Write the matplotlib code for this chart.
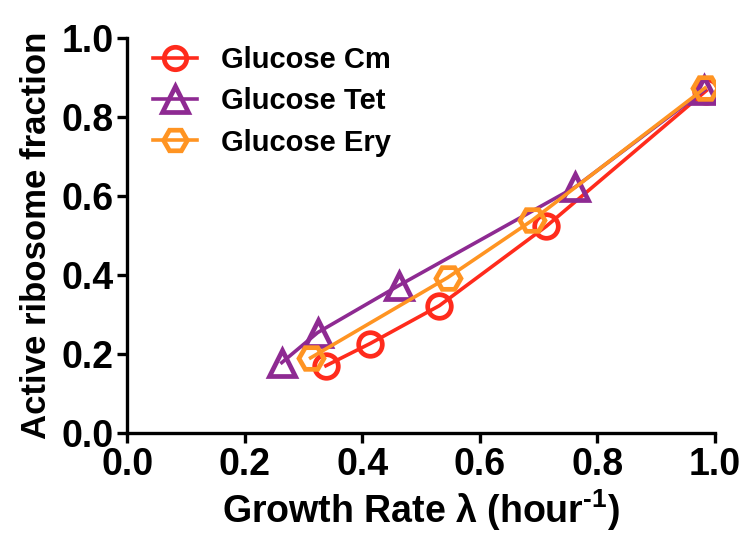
import matplotlib
matplotlib.use("Agg")
import matplotlib.pyplot as plt

plt.rcParams['font.family'] = ['Liberation Sans', 'DejaVu Sans']
plt.rcParams['font.weight'] = 'bold'
plt.rcParams['mathtext.fontset'] = 'custom'
plt.rcParams['mathtext.rm'] = 'Liberation Sans:bold'
plt.rcParams['mathtext.bf'] = 'Liberation Sans:bold'
plt.rcParams['mathtext.default'] = 'rm'

# Growth rate (1/h) and active ribosome fraction for each antibiotic series
cm_rate = [0.338, 0.413, 0.531, 0.713, 0.985]
cm_frac = [0.170, 0.226, 0.322, 0.523, 0.866]

tet_rate = [0.263, 0.324, 0.462, 0.762, 0.982]
tet_frac = [0.178, 0.254, 0.373, 0.622, 0.868]

ery_rate = [0.312, 0.545, 0.689, 0.983]
ery_frac = [0.190, 0.393, 0.538, 0.873]

labels = ["Glucose Cm", "Glucose Tet", "Glucose Ery"]
ticks = [0.0, 0.2, 0.4, 0.6, 0.8, 1.0]

fig = plt.figure(figsize=(7.44, 5.48), dpi=100)
ax = fig.add_axes([0.171, 0.210, 0.790, 0.721])

lw = 2.6
ms = 17
mew = 3.4
ax.plot(cm_rate, cm_frac, color='#FF2B1C', lw=lw, marker='o', ms=ms,
        mfc='none', mew=mew, label=labels[0], zorder=3)
ax.plot(tet_rate, tet_frac, color='#8E2A92', lw=lw, marker='^', ms=ms + 2,
        mfc='none', mew=mew, label=labels[1], zorder=3)
ax.plot(ery_rate, ery_frac, color='#FF9422', lw=lw, marker='H', ms=ms + 1,
        mfc='none', mew=mew, label=labels[2], zorder=4)

ax.set_xlim(0, 1.0)
ax.set_ylim(0, 1.0)
ax.set_xticks(ticks)
ax.set_yticks(ticks)
ax.set_xticklabels([f"{t:.1f}" for t in ticks])
ax.set_yticklabels([f"{t:.1f}" for t in ticks])

for side in ['top', 'right']:
    ax.spines[side].set_visible(False)
for side in ['left', 'bottom']:
    ax.spines[side].set_linewidth(2.4)
    ax.spines[side].set_color('black')

ax.tick_params(axis='both', direction='out', length=7, width=2.4,
               labelsize=27, pad=3)
for lab in ax.get_xticklabels() + ax.get_yticklabels():
    lab.set_fontweight('bold')

ax.set_xlabel(r"Growth Rate λ (hour$^{\text{-1}}$)", fontsize=27,
              fontweight='bold', labelpad=3)
ax.set_ylabel("Active ribosome fraction", fontsize=25, fontweight='bold',
              labelpad=6)

leg = ax.legend(loc='upper left', bbox_to_anchor=(0.0, 1.045), frameon=False,
                fontsize=21, handlelength=1.5, handletextpad=0.8,
                labelspacing=0.45, markerscale=0.95)
for t in leg.get_texts():
    t.set_fontweight('bold')

fig.savefig("out.png", dpi=100)
